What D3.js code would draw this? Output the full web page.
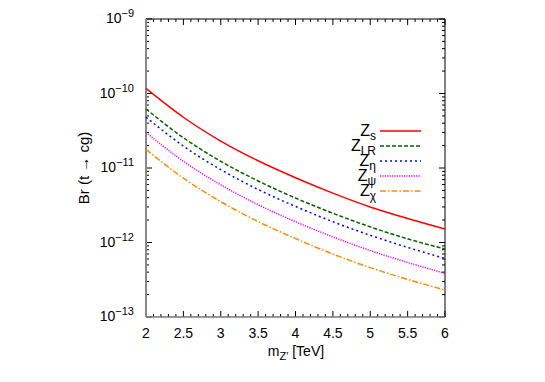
<!DOCTYPE html>
<html><head><meta charset="utf-8">
<script src="https://cdn.jsdelivr.net/npm/d3@7"></script>
<style>body{margin:0;background:#fff}svg{font-family:"Liberation Sans",Arial,sans-serif}</style>
</head><body><svg id="c" width="545" height="382"></svg>
<script>
const mass = [2, 2.5, 3, 3.5, 4, 4.5, 5, 5.5, 6];
const Zs  = [1.17e-10, 4.8e-11, 2.3e-11, 1.25e-11, 7.4e-12, 4.6e-12, 3.0e-12, 2.1e-12, 1.52e-12];
const ZLR = [6.2e-11, 2.55e-11, 1.23e-11, 6.7e-12, 3.95e-12, 2.47e-12, 1.62e-12, 1.12e-12, 8.2e-13];
const Zeta = [4.8e-11, 1.97e-11, 9.5e-12, 5.15e-12, 3.05e-12, 1.9e-12, 1.25e-12, 8.6e-13, 6.1e-13];
const Zpsi = [3.0e-11, 1.23e-11, 5.95e-12, 3.22e-12, 1.9e-12, 1.19e-12, 7.8e-13, 5.4e-13, 3.85e-13];
const Zchi = [1.78e-11, 7.3e-12, 3.53e-12, 1.91e-12, 1.13e-12, 7.0e-13, 4.6e-13, 3.2e-13, 2.3e-13];
const xTicks = [2, 2.5, 3, 3.5, 4, 4.5, 5, 5.5, 6];
const xTickLabels = ["2", "2.5", "3", "3.5", "4", "4.5", "5", "5.5", "6"];
const yTicks = [1e-13, 1e-12, 1e-11, 1e-10, 1e-9];
const yTickExp = ["−13", "−12", "−11", "−10", "−9"];
const seriesNames = [["Z","s"], ["Z","LR"], ["Z","η"], ["Z","ψ"], ["Z","χ"]];
const seriesValues = [Zs, ZLR, Zeta, Zpsi, Zchi];
const colors = ["#ff0000", "#006400", "#0000ff", "#ff00ff", "#ff8c00"];
const dashes = [null, "4,2", "2,3", "1.2,1.2", "6,2,1.5,2"];

const svg = d3.select("#c");
const L = 146, R = 445, T = 19, B = 317;
const x = d3.scaleLinear().domain([2, 6]).range([L, R]);
const y = d3.scaleLog().domain([1e-13, 1e-9]).range([B, T]);

const xMinor = d3.range(2, 6.0001, 0.1).map(v => +v.toFixed(2));
const yMinor = [];
for (let e = -13; e < -9; e++) for (let k = 2; k <= 9; k++) yMinor.push(k * Math.pow(10, e));

const g = svg.append("g");
xMinor.forEach(v => {
  const major = xTicks.some(t => Math.abs(t - v) < 1e-6);
  const len = major ? 6 : 3;
  g.append("line").attr("x1", x(v)).attr("x2", x(v)).attr("y1", B).attr("y2", B - len).attr("stroke", "#000").attr("stroke-width", 1);
  g.append("line").attr("x1", x(v)).attr("x2", x(v)).attr("y1", T).attr("y2", T + len).attr("stroke", "#000").attr("stroke-width", 1);
});
yTicks.forEach(v => {
  g.append("line").attr("x1", L).attr("x2", L + 6).attr("y1", y(v)).attr("y2", y(v)).attr("stroke", "#000");
  g.append("line").attr("x1", R).attr("x2", R - 6).attr("y1", y(v)).attr("y2", y(v)).attr("stroke", "#000");
});
yMinor.forEach(v => {
  g.append("line").attr("x1", L).attr("x2", L + 3).attr("y1", y(v)).attr("y2", y(v)).attr("stroke", "#000");
  g.append("line").attr("x1", R).attr("x2", R - 3).attr("y1", y(v)).attr("y2", y(v)).attr("stroke", "#000");
});
g.append("line").attr("x1", L).attr("x2", R).attr("y1", T).attr("y2", T).attr("stroke", "#000");
g.append("line").attr("x1", R).attr("x2", R).attr("y1", T).attr("y2", B).attr("stroke", "#000");
g.append("line").attr("x1", L).attr("x2", R).attr("y1", B).attr("y2", B).attr("stroke", "#777").attr("stroke-width", 1.5);
g.append("line").attr("x1", L).attr("x2", L).attr("y1", T).attr("y2", B).attr("stroke", "#888").attr("stroke-width", 2);

xTicks.forEach((v, i) => {
  svg.append("text").attr("x", x(v)).attr("y", B + 21).attr("text-anchor", "middle")
    .attr("font-size", 14).text(xTickLabels[i]);
});
yTicks.forEach((v, i) => {
  const t = svg.append("text").attr("x", 134).attr("y", y(v) + 4).attr("text-anchor", "end").attr("font-size", 14);
  t.append("tspan").text("10");
  t.append("tspan").attr("dy", -6).attr("font-size", 11).text(yTickExp[i]);
});

const xt = svg.append("text").attr("x", 296).attr("y", 356).attr("text-anchor", "middle").attr("font-size", 14);
xt.append("tspan").text("m");
xt.append("tspan").attr("dy", 4).attr("font-size", 11).text("Z′");
xt.append("tspan").attr("dy", -4).text(" [TeV]");
svg.append("text").attr("transform", "translate(89,168) rotate(-90)").attr("text-anchor", "middle")
  .attr("font-size", 15).text("Br (t → cg)");

const line = d3.line().x((d, i) => x(mass[i])).y(d => y(d)).curve(d3.curveMonotoneX);
const cg = svg.append("g");
seriesValues.forEach((vals, k) => {
  cg.append("path").datum(vals).attr("d", line).attr("fill", "none")
    .attr("stroke", colors[k]).attr("stroke-width", 1.5)
    .attr("stroke-dasharray", dashes[k]);
});

seriesNames.forEach((nm, k) => {
  const yy = 131 + k * 15;
  const t = svg.append("text").attr("x", 376).attr("y", yy + 5).attr("text-anchor", "end").attr("font-size", 16);
  t.append("tspan").text(nm[0]);
  t.append("tspan").attr("dy", 4).attr("font-size", 12).text(nm[1]);
  svg.append("line").attr("x1", 380).attr("x2", 421).attr("y1", yy).attr("y2", yy)
    .attr("stroke", colors[k]).attr("stroke-width", 1.5).attr("stroke-dasharray", dashes[k]);
});
</script></body></html>
